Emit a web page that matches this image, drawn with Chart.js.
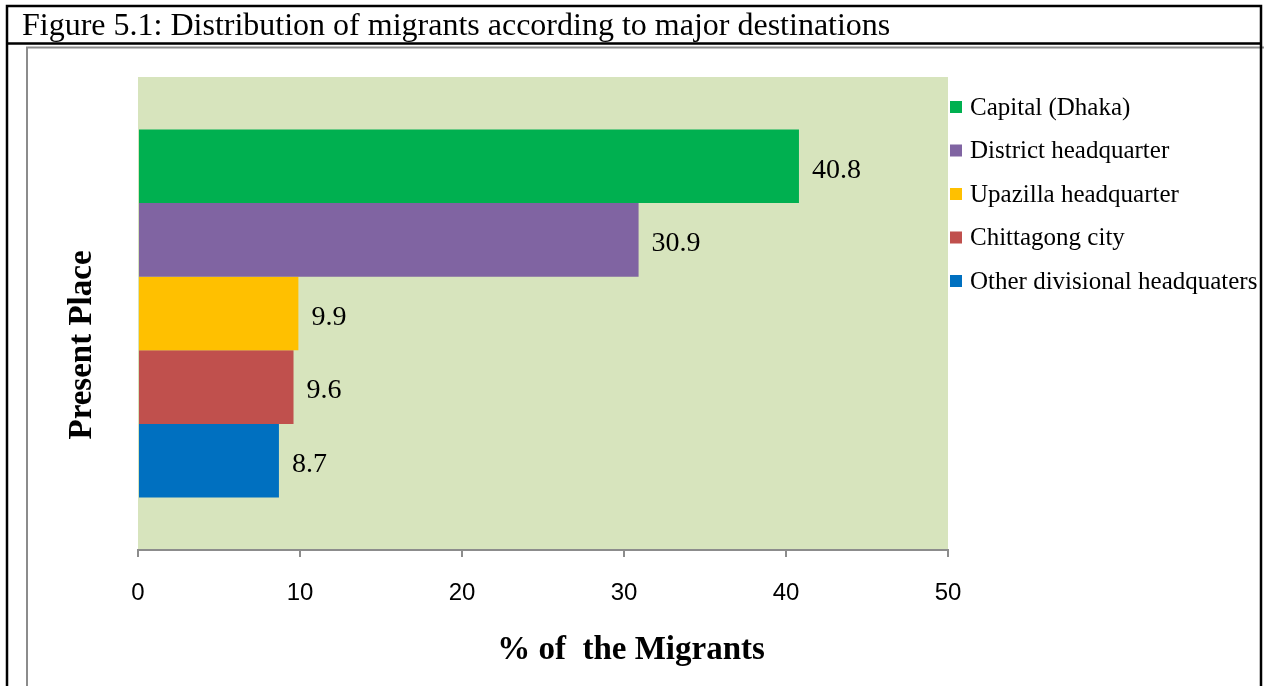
<!DOCTYPE html>
<html>
<head>
<meta charset="utf-8">
<script src="https://cdn.jsdelivr.net/npm/chart.js@4"></script>
<style>
  html, body { margin: 0; padding: 0; background: #fff; }
  #wrap { position: relative; width: 1264px; height: 686px; }
</style>
</head>
<body>
<div id="wrap"><canvas id="chart" width="1264" height="686"></canvas></div>
<script>
const places = ['Capital (Dhaka)', 'District headquarter', 'Upazilla headquarter', 'Chittagong city', 'Other divisional headquaters'];
const shares = [40.8, 30.9, 9.9, 9.6, 8.7];
const colors = ['#00B050', '#8064A2', '#FFC000', '#C0504D', '#0070C0'];
const xTicks = [0, 10, 20, 30, 40, 50];

const serif = '"Liberation Serif", "Times New Roman", serif';

// frame, title row, plot background
const framePlugin = {
    id: 'frame',
    beforeDraw(chart) {
        const c = chart.ctx;
        const a = chart.chartArea;
        c.save();
        c.fillStyle = '#D7E4BD';
        c.fillRect(a.left, a.top, a.right - a.left, a.bottom - a.top);

        c.strokeStyle = '#8c8c8c';
        c.lineWidth = 2;
        c.strokeRect(27, 47.5, 1300, 700);

        c.strokeStyle = '#000';
        c.lineWidth = 2.5;
        c.beginPath();
        c.moveTo(7, 700); c.lineTo(7, 6); c.lineTo(1261, 6); c.lineTo(1261, 700);
        c.moveTo(7, 43.5); c.lineTo(1261, 43.5);
        c.stroke();

        c.fillStyle = '#000';
        c.font = '32px ' + serif;
        c.textBaseline = 'alphabetic';
        c.fillText('Figure 5.1: Distribution of migrants according to major destinations', 22, 35);
        c.restore();
    },
    afterDraw(chart) {
        const c = chart.ctx;
        c.save();
        // value labels
        c.fillStyle = '#000';
        c.font = '28px ' + serif;
        c.textBaseline = 'middle';
        chart.data.datasets.forEach((ds, i) => {
            const bar = chart.getDatasetMeta(i).data[0];
            c.fillText(ds.data[0].toFixed(1), bar.x + 13, bar.y + 4);
        });

        // legend
        c.font = '25px ' + serif;
        chart.data.datasets.forEach((ds, i) => {
            const y = 107 + i * 43.5;
            c.fillStyle = ds.backgroundColor;
            c.fillRect(950, y - 6, 12, 12);
            c.fillStyle = '#000';
            c.fillText(ds.label, 970, y + 1);
        });

        // axis titles
        c.font = 'bold 33px ' + serif;
        c.textAlign = 'center';
        c.fillText('% of  the Migrants', 631, 650);
        c.translate(82, 345);
        c.rotate(-Math.PI / 2);
        c.fillText('Present Place', 0, 0);
        c.restore();
    }
};

new Chart(document.getElementById('chart'), {
    type: 'bar',
    data: {
        labels: ['Present Place'],
        datasets: places.map((p, i) => ({
            label: p,
            data: [shares[i]],
            backgroundColor: colors[i],
            borderWidth: 0,
            barPercentage: 1,
            categoryPercentage: 0.778
        }))
    },
    options: {
        indexAxis: 'y',
        responsive: false,
        animation: false,
        layout: { padding: { left: 138, top: 77, right: 316, bottom: 0 } },
        plugins: { legend: { display: false }, tooltip: { enabled: false } },
        scales: {
            y: { display: false },
            x: {
                min: 0,
                max: 50,
                afterBuildTicks(scale) { scale.ticks = xTicks.map(v => ({ value: v })); },
                afterFit(scale) { scale.height = 136; },
                border: { color: '#8c8c8c', width: 2 },
                grid: { drawOnChartArea: false, color: '#8c8c8c', tickLength: 7, lineWidth: 2 },
                ticks: {
                    color: '#000',
                    padding: 22,
                    font: { family: '"Liberation Sans", Arial, sans-serif', size: 24 }
                }
            }
        }
    },
    plugins: [framePlugin]
});
</script>
</body>
</html>
